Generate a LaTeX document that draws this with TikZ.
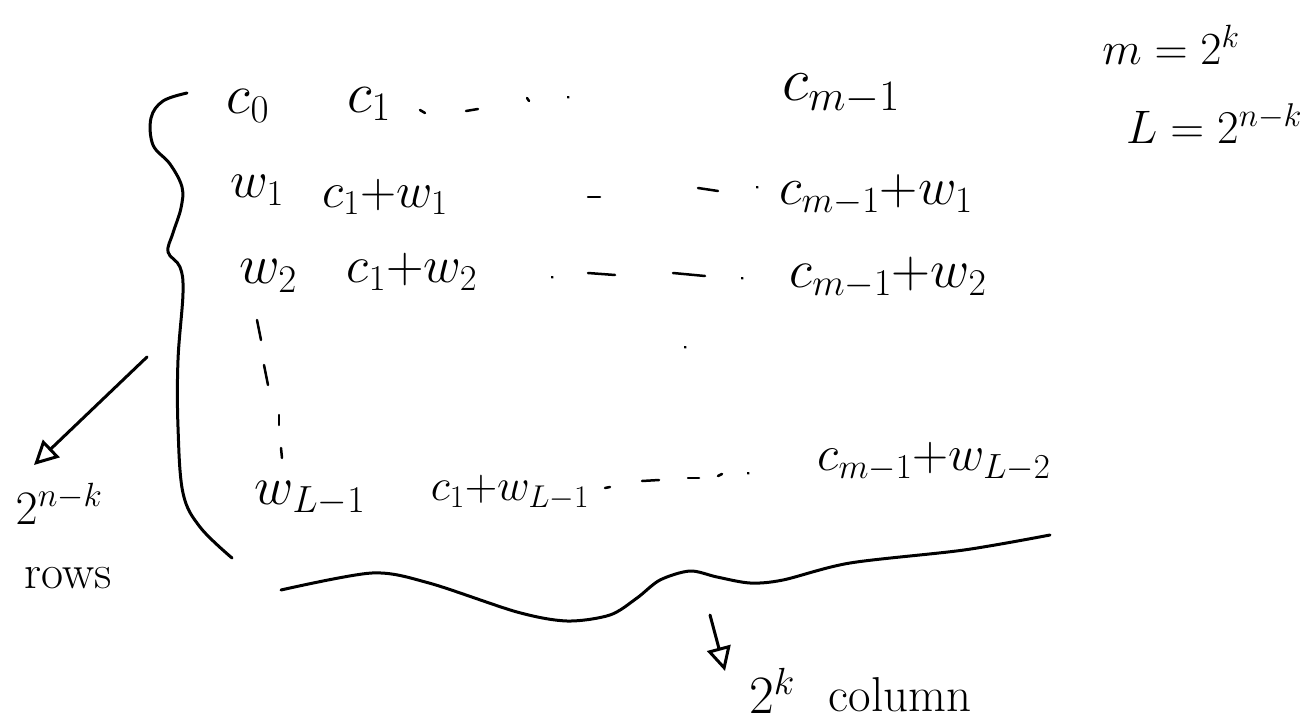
\RequirePackage{fix-cm}
\documentclass[tikz,border=0pt]{standalone}
\usepackage{fontspec}
\usetikzlibrary{arrows.meta}
\newcommand{\fsz}[1]{\fontsize{#1}{#1}\selectfont}
\begin{document}
\begin{tikzpicture}[x=1pt,y=-1pt, line cap=round, line join=round,
  ink/.style={line width=3pt, black},
  hw/.style={inner sep=0pt, font=\fsz{48}},
  tick/.style={line width=2.5pt},
  openhead/.style={-{Triangle[open, length=24pt, width=24pt, line width=3pt]}}]
\useasboundingbox (0,0) rectangle (1305,727);

% row 0
\node[hw, font=\fsz{56}] (c0) at (248,106) {$c_0$};
\node[hw, font=\fsz{58}] (c1) at (369,104) {$c_1$};
\node[hw, font=\fsz{62}] (cm) at (841,94) {$c_{m-1}$};
% row 1
\node[hw, font=\fsz{52}] (w1) at (257,190) {$w_1$};
\node[hw, font=\fsz{50}] (c1w1) at (385,197) {$c_1{+}w_1$};
\node[hw, font=\fsz{53}] (cmw1) at (876,195) {$c_{m-1}{+}w_1$};
% row 2
\node[hw, font=\fsz{56}] (w2) at (268,276) {$w_2$};
\node[hw, font=\fsz{52}] (c1w2) at (412,272) {$c_1{+}w_2$};
\node[hw, font=\fsz{54}] (cmw2) at (888,278) {$c_{m-1}{+}w_2$};
% last row
\node[hw, font=\fsz{54}] (wl) at (310,498) {$w_{L-1}$};
\node[hw, font=\fsz{45}] (c1wl) at (510,493) {$c_1{+}w_{L-1}$};
\node[hw, font=\fsz{50}] (cmwl) at (934,462) {$c_{m-1}{+}w_{L-2}$};

% dotted continuations
\draw[tick] (420,110) -- (425,113);
\draw[tick] (466,111) -- (478,109);
\draw[tick] (527,98) -- (529,101);
\draw[tick] (568,97) -- (568.5,97.5);
\draw[tick] (588,197) -- (600,197);
\draw[tick] (698,188) -- (718,191);
\draw[tick] (757,187) -- (757.5,187.5);
\draw[tick] (552,277) -- (552.5,277.5);
\draw[tick] (588,273) -- (615,275);
\draw[tick] (673,273) -- (705,276);
\draw[tick] (742,278) -- (742.5,278.5);
\draw[tick] (605,488) -- (610,487);
\draw[tick] (642,481) -- (659,480);
\draw[tick] (688,478) -- (699,478);
\draw[tick] (718,476) -- (722,474);
\draw[tick] (748,473) -- (748.5,473.5);
% vertical dots
\draw[tick] (257,320) -- (261,340);
\draw[tick] (264,365) -- (268,385);
\draw[tick] (279,415) -- (279,425);
\draw[tick] (281,448) -- (282,458);
\draw[tick] (685,347) -- (685.5,347.5);

% left brace
\draw[ink] plot[smooth, tension=0.6] coordinates {(187,93) (163,101) (151,118) (153,145) (170,164) (182,187) (181,208) (173,233) (168,252) (180,267) (183,293) (178,360) (178,427) (183,493) (200,527) (232,558)};
% bottom brace
\draw[ink] plot[smooth, tension=0.5] coordinates {(281,590) (372,573) (429,583) (517,612) (567,621) (610,615) (637,598) (660,580) (690,571) (717,577) (750,583) (783,580) (850,563) (964,550) (1050,535)};

% labels
\node[hw] (rowsn) at (59,504) {$2^{n-k}$};
\node[hw, font=\fsz{48}] (rows) at (68,578) {rows};
\node[hw, font=\fsz{46}] (mdef) at (1171,45) {$m=2^k$};
\node[hw, font=\fsz{47}] (ldef) at (1214,124) {$L=2^{n-k}$};
\node[hw, font=\fsz{54}] (colsn) at (772,691) {$2^k$};
\node[hw, font=\fsz{49}] (cols) at (900,695) {column};

% arrows
\coordinate (ra) at (147,357);
\coordinate (rb) at (34,465);
\draw[ink, openhead] (ra) -- (rb);
\coordinate (ca) at (710,615);
\coordinate (cb) at (725,671);
\draw[ink, openhead] (ca) -- (cb);
\end{tikzpicture}
\end{document}
